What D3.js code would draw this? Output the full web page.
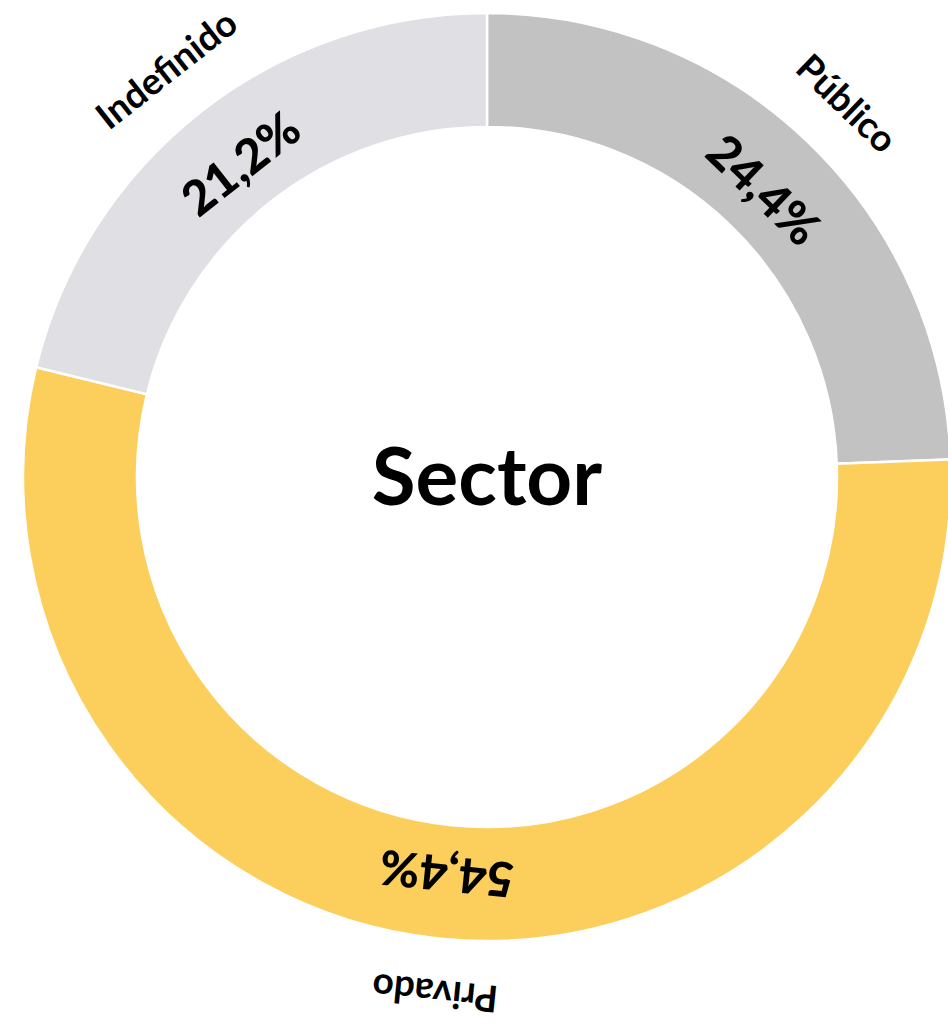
<!DOCTYPE html>
<html>
<head>
<meta charset="utf-8">
<script src="https://cdn.jsdelivr.net/npm/d3@7"></script>
<style>
  body { margin: 0; background: #fff; }
  text { font-family: Lato, "Open Sans", sans-serif; }
</style>
</head>
<body>
<div id="myChart"></div>
<script>
// data
const sectors = ["Público", "Privado", "Indefinido"];
const shares = [24.4, 54.4, 21.2];
const colors = ["#c2c2c2", "#fccf5c", "#dfdfe4"];
const centerLabel = "Sector";

const width = 948, height = 1024;
const cx = 487, cy = 477;
const outerR = 464, innerR = 350;

const svg = d3.select("#myChart")
  .append("svg")
    .attr("width", width)
    .attr("height", height)
  .append("g")
    .attr("transform", `translate(${cx}, ${cy})`);

const data = sectors.map((s, i) => ({ name: s, value: shares[i], color: colors[i] }));

const pie = d3.pie()
  .sort(null)
  .value(d => d.value);

const arc = d3.arc()
  .innerRadius(innerR)
  .outerRadius(outerR);

const arcs = pie(data);

// ring
svg.selectAll("path.slice")
  .data(arcs)
  .join("path")
    .attr("class", "slice")
    .attr("d", arc)
    .style("fill", d => d.data.color)
    .style("stroke", "#fff")
    .style("stroke-width", 2.5);

const fmt = v => d3.format(".1f")(v).replace(".", ",") + "%";
const deg = d => (d.startAngle + d.endAngle) / 2 * 180 / Math.PI;

// percentages inside the ring
svg.selectAll("text.pct")
  .data(arcs)
  .join("text")
    .attr("class", "pct")
    .attr("transform", d => `rotate(${deg(d)}) translate(0, -400)`)
    .attr("text-anchor", "middle")
    .attr("dominant-baseline", "central")
    .style("font-size", "48px")
    .style("font-weight", 900)
    .text(d => fmt(d.data.value));

// category names outside the ring
svg.selectAll("text.name")
  .data(arcs)
  .join("text")
    .attr("class", "name")
    .attr("transform", d => `rotate(${deg(d)}) translate(0, -520)`)
    .attr("text-anchor", "middle")
    .attr("dominant-baseline", "central")
    .style("font-size", "37px")
    .style("font-weight", 700)
    .text(d => d.data.name);

// center title
svg.append("text")
    .attr("text-anchor", "middle")
    .attr("y", 28)
    .style("font-size", "80px")
    .style("font-weight", 700)
    .text(centerLabel);
</script>
</body>
</html>
